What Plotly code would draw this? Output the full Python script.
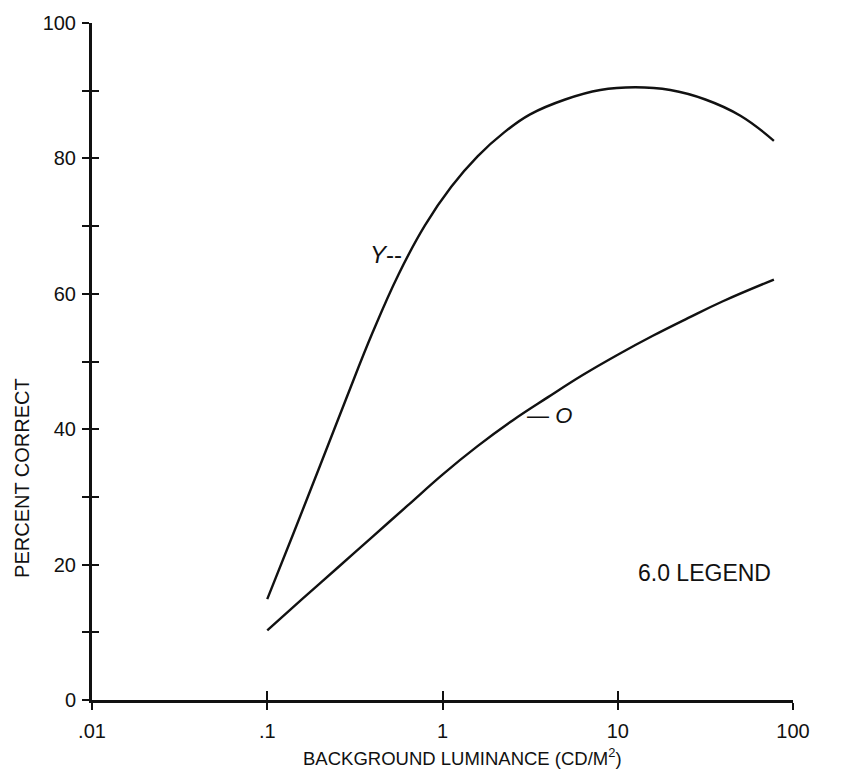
import plotly.graph_objects as go

# Background luminance (cd/m^2) and percent correct for the two curves
lum_y = [0.1, 0.141, 0.2, 0.282, 0.398, 0.562, 0.794, 1.122, 1.585, 2.239,
         3.162, 5.012, 7.943, 12.59, 19.95, 31.62, 50.12, 77.8]
pct_y = [14.9, 24.6, 34.6, 44.5, 54.2, 62.9, 70.1, 75.8, 80.3, 83.8,
         86.5, 88.7, 90.1, 90.5, 90.1, 88.7, 86.3, 82.6]

lum_o = [0.1, 0.158, 0.251, 0.398, 0.631, 1.0, 1.585, 2.512, 3.981, 6.31,
         10.0, 15.85, 25.12, 39.81, 77.8]
pct_o = [10.3, 14.9, 19.5, 24.1, 28.7, 33.3, 37.5, 41.3, 44.7, 48.0,
         51.0, 53.8, 56.4, 58.9, 62.1]

x_tickvals = [0.01, 0.1, 1, 10, 100]
x_ticktext = [".01", ".1", "1", "10", "100"]
y_tickvals = list(range(0, 101, 10))
y_ticktext = [str(v) if v % 20 == 0 else "" for v in y_tickvals]

INK = "#111111"
FONT = "Liberation Sans, Arial, sans-serif"

fig = go.Figure()
for xs, ys in [(lum_y, pct_y), (lum_o, pct_o)]:
    fig.add_trace(go.Scatter(x=xs, y=ys, mode="lines",
                             line=dict(color=INK, width=2.4, shape="spline", smoothing=1.2),
                             showlegend=False, hoverinfo="skip"))
# empty trace so the overlay axes (inner half of the crossing ticks) are drawn
fig.add_trace(go.Scatter(x=[], y=[], xaxis="x2", yaxis="y2", showlegend=False))

common_x = dict(type="log", range=[-2, 2], tickvals=x_tickvals, showgrid=False,
                zeroline=False, tickcolor=INK, tickwidth=2)
common_y = dict(range=[0, 100], tickvals=y_tickvals, showgrid=False,
                zeroline=False, tickcolor=INK, tickwidth=2)

fig.update_layout(
    width=850, height=775,
    margin=dict(l=92, r=57, t=18, b=75),
    paper_bgcolor="white", plot_bgcolor="white",
    font=dict(family=FONT, color=INK, size=20),
    xaxis=dict(**common_x, ticktext=x_ticktext, ticks="outside", ticklen=7,
               showline=True, linecolor=INK, linewidth=3,
               tickfont=dict(size=20), ticklabelstandoff=4),
    yaxis=dict(**common_y, ticktext=y_ticktext, ticks="outside", ticklen=7,
               showline=True, linecolor=INK, linewidth=3,
               tickfont=dict(size=20), ticklabelstandoff=2),
    xaxis2=dict(**common_x, overlaying="x", anchor="y2", side="bottom",
                ticks="inside", ticklen=9, showticklabels=False, showline=False),
    yaxis2=dict(**common_y, overlaying="y", anchor="x2", side="left",
                ticks="inside", ticklen=7, showticklabels=False, showline=False),
)

annotations = [
    dict(text="<i>Y</i>--", x=-0.222, y=65.8, xref="x", yref="y",
         xanchor="right", yanchor="middle", showarrow=False,
         font=dict(size=24, family=FONT)),
    dict(text="\u2014 <i>O</i>", x=0.471, y=42.0, xref="x", yref="y",
         xanchor="left", yanchor="middle", showarrow=False,
         font=dict(size=22, family=FONT)),
    dict(text="6.0 LEGEND", x=1.494, y=18.7, xref="x", yref="y",
         xanchor="center", yanchor="middle", showarrow=False,
         font=dict(size=23, family=FONT)),
    dict(text="BACKGROUND LUMINANCE (CD/M<sup>2</sup>)", x=0.528, y=-0.0836,
         xref="paper", yref="paper", xanchor="center", yanchor="middle",
         showarrow=False, font=dict(size=18.5, family=FONT)),
    dict(text="PERCENT CORRECT", x=-0.0999, y=0.328, xref="paper", yref="paper",
         xanchor="center", yanchor="middle", textangle=-90, showarrow=False,
         font=dict(size=20, family=FONT)),
]
fig.update_layout(annotations=annotations)

fig.write_html("out.html")
